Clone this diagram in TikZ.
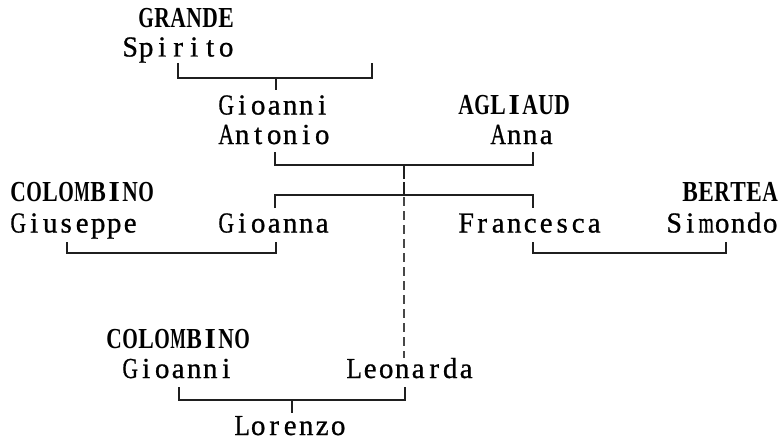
\documentclass[tikz,border=0pt]{standalone}
\usepackage{fontspec}
\usepackage{graphicx}
\newfontfamily\pfont{Liberation Serif}[BoldFont=Liberation Serif, BoldFeatures={FakeBold=0.8}]
\newfontfamily\sfont{Liberation Serif}[BoldFont=Liberation Serif Bold]
\makeatletter
\newlength\cellw \setlength\cellw{16pt}
\newsavebox\cellbox
\newcommand\onecell[1]{%
  \sbox\cellbox{#1}%
  \ifdim\wd\cellbox>0.97\cellw
    \makebox[\cellw][c]{\resizebox{0.97\cellw}{\height}{\usebox\cellbox}}%
  \else
    \makebox[\cellw][c]{\usebox\cellbox}%
  \fi}
\newcommand\mono[1]{\@tfor\mono@c:=#1\do{\expandafter\onecell\expandafter{\mono@c}}}
\makeatother
\tikzset{
  person/.style={inner sep=0pt, anchor=base west, font=\pfont\bfseries\fontsize{29}{29}\selectfont},
  surname/.style={person, font=\sfont\bfseries\fontsize{29}{29}\selectfont},
  link/.style={line width=1.8pt, draw=black!88, line cap=butt},
  dashlink/.style={line width=1.9pt, draw=black!72, dash pattern=on 9pt off 5pt}
}
\begin{document}
\begin{tikzpicture}[x=1pt,y=-1pt]
\useasboundingbox (0,0) rectangle (783,441);
% names
\node[surname] (grande) at (138,28) {\mono{GRANDE}};
\node[person] (spirito) at (122,56.5) {\mono{Spirito}};
\node[person] (gioanni1) at (218,114.5) {\mono{Gioanni}};
\node[person] (antonio) at (218,144) {\mono{Antonio}};
\node[surname] (agliaud) at (458,114.5) {\mono{AGLIAUD}};
\node[person] (anna) at (490,144) {\mono{Anna}};
\node[surname] (colombino1) at (10,201.5) {\mono{COLOMBINO}};
\node[person] (giuseppe) at (10,232.5) {\mono{Giuseppe}};
\node[person] (gioanna) at (218,232.5) {\mono{Gioanna}};
\node[person] (francesca) at (458,232.5) {\mono{Francesca}};
\node[surname] (bertea) at (682,201.5) {\mono{BERTEA}};
\node[person] (simondo) at (666,232.5) {\mono{Simondo}};
\node[surname] (colombino2) at (106,348.5) {\mono{COLOMBINO}};
\node[person] (gioanni2) at (122,378) {\mono{Gioanni}};
\node[person] (leonarda) at (346,378) {\mono{Leonarda}};
\node[person] (lorenzo) at (234,435) {\mono{Lorenzo}};
% connector points
\coordinate (a1) at (178,63);  \coordinate (a2) at (178,78);
\coordinate (a3) at (372,78);  \coordinate (a4) at (372,63);
\coordinate (at1) at (276,78); \coordinate (at2) at (276,90);
\coordinate (b1) at (275,152); \coordinate (b2) at (275,165);
\coordinate (b3) at (533,165); \coordinate (b4) at (533,152);
\coordinate (bt1) at (404,165); \coordinate (bt2) at (404,179);
\coordinate (bt3) at (404,182); \coordinate (bt4) at (404,195);
\coordinate (c1) at (275,208); \coordinate (c2) at (275,195);
\coordinate (c3) at (533,195); \coordinate (c4) at (533,208);
\coordinate (d1) at (404,197); \coordinate (d2) at (404,358);
\coordinate (e1) at (67,242);  \coordinate (e2) at (67,253);
\coordinate (e3) at (276,253); \coordinate (e4) at (276,242);
\coordinate (f1) at (533,242); \coordinate (f2) at (533,253);
\coordinate (f3) at (726,253); \coordinate (f4) at (726,242);
\coordinate (g1) at (179,387); \coordinate (g2) at (179,400);
\coordinate (g3) at (405,400); \coordinate (g4) at (405,387);
\coordinate (gt1) at (292,400); \coordinate (gt2) at (292,413);
% connectors
\draw[link] (a1) -- (a2) -- (a3) -- (a4);
\draw[link] (at1) -- (at2);
\draw[link] (b1) -- (b2) -- (b3) -- (b4);
\draw[link] (bt1) -- (bt2);
\draw[link] (bt3) -- (bt4);
\draw[link] (c1) -- (c2) -- (c3) -- (c4);
\draw[dashlink] (d1) -- (d2);
\draw[link] (e1) -- (e2) -- (e3) -- (e4);
\draw[link] (f1) -- (f2) -- (f3) -- (f4);
\draw[link] (g1) -- (g2) -- (g3) -- (g4);
\draw[link] (gt1) -- (gt2);
\end{tikzpicture}
\end{document}
